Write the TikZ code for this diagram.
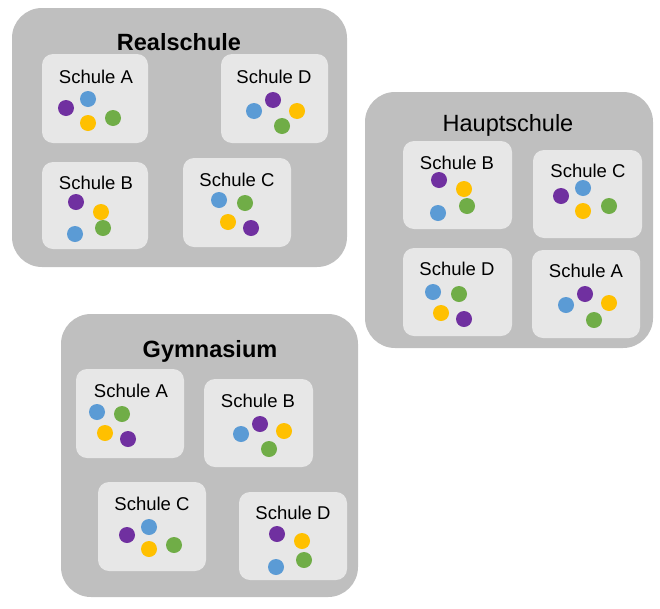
\documentclass[tikz,border=0pt]{standalone}
\usepackage{fontspec}
\setmainfont{Liberation Sans}
\definecolor{outergray}{HTML}{BFBFBF}
\definecolor{innergray}{HTML}{E7E7E7}
\definecolor{dotpurple}{HTML}{7030A0}
\definecolor{dotblue}{HTML}{5B9BD5}
\definecolor{dotyellow}{HTML}{FFC000}
\definecolor{dotgreen}{HTML}{70AD47}
\tikzset{
  typebox/.style={fill=outergray, rounded corners=30pt},
  schoolbox/.style={fill=innergray, rounded corners=11pt},
  typetitle/.style={anchor=base, inner sep=0pt, font=\fontsize{23.5}{26}\selectfont},
  schoollabel/.style={anchor=base, inner sep=0pt, font=\fontsize{18.5}{21}\selectfont},
}
\begin{document}
\begin{tikzpicture}[x=1pt, y=-1pt]
\useasboundingbox (0,0) rectangle (660,608);

% Realschule
\fill[typebox] (12,8) rectangle (347,267);
\node[typetitle, font=\fontsize{23.5}{26}\selectfont\bfseries] (realTitle) at (179,50) {Realschule};

\fill[schoolbox] (42,54) rectangle (148,143);
\node[schoollabel] (realA) at (96,83) {Schule A};
\fill[dotpurple] (66,108) circle (8);
\fill[dotblue] (88,99) circle (8);
\fill[dotyellow] (88,123) circle (8);
\fill[dotgreen] (113,118) circle (8);

\fill[schoolbox] (221,54) rectangle (328,143);
\node[schoollabel] (realD) at (274,83) {Schule D};
\fill[dotblue] (254,111) circle (8);
\fill[dotpurple] (273,100) circle (8);
\fill[dotyellow] (297,111) circle (8);
\fill[dotgreen] (282,126) circle (8);

\fill[schoolbox] (42,162) rectangle (148,249);
\node[schoollabel] (realB) at (96,189) {Schule B};
\fill[dotpurple] (76,202) circle (8);
\fill[dotyellow] (101,212) circle (8);
\fill[dotgreen] (103,228) circle (8);
\fill[dotblue] (75,234) circle (8);

\fill[schoolbox] (183,158) rectangle (291,247);
\node[schoollabel] (realC) at (237,186) {Schule C};
\fill[dotblue] (219,200) circle (8);
\fill[dotgreen] (245,203) circle (8);
\fill[dotyellow] (228,222) circle (8);
\fill[dotpurple] (251,228) circle (8);

% Hauptschule
\fill[typebox] (365,92) rectangle (653,348);
\node[typetitle] (hauptTitle) at (508,131) {Hauptschule};

\fill[schoolbox] (403,141) rectangle (512,229);
\node[schoollabel] (hauptB) at (457,169) {Schule B};
\fill[dotpurple] (439,180) circle (8);
\fill[dotyellow] (464,189) circle (8);
\fill[dotgreen] (467,206) circle (8);
\fill[dotblue] (438,213) circle (8);

\fill[schoolbox] (533,150) rectangle (642,238);
\node[schoollabel] (hauptC) at (588,177) {Schule C};
\fill[dotpurple] (561,196) circle (8);
\fill[dotblue] (583,188) circle (8);
\fill[dotyellow] (583,211) circle (8);
\fill[dotgreen] (609,206) circle (8);

\fill[schoolbox] (403,248) rectangle (512,336);
\node[schoollabel] (hauptD) at (457,275) {Schule D};
\fill[dotblue] (433,292) circle (8);
\fill[dotgreen] (459,294) circle (8);
\fill[dotyellow] (441,313) circle (8);
\fill[dotpurple] (464,319) circle (8);

\fill[schoolbox] (532,250) rectangle (640,338);
\node[schoollabel] (hauptA) at (586,277) {Schule A};
\fill[dotblue] (566,305) circle (8);
\fill[dotpurple] (585,294) circle (8);
\fill[dotyellow] (609,303) circle (8);
\fill[dotgreen] (594,320) circle (8);

% Gymnasium
\fill[typebox] (61,314) rectangle (358,597);
\node[typetitle, font=\fontsize{23.5}{26}\selectfont\bfseries] (gymTitle) at (210,357) {Gymnasium};

\fill[schoolbox] (76,369) rectangle (184,458);
\node[schoollabel] (gymA) at (131,397) {Schule A};
\fill[dotblue] (97,412) circle (8);
\fill[dotgreen] (122,414) circle (8);
\fill[dotyellow] (105,433) circle (8);
\fill[dotpurple] (128,439) circle (8);

\fill[schoolbox] (204,379) rectangle (313,467);
\node[schoollabel] (gymB) at (258,407) {Schule B};
\fill[dotblue] (241,434) circle (8);
\fill[dotpurple] (260,424) circle (8);
\fill[dotyellow] (284,431) circle (8);
\fill[dotgreen] (269,449) circle (8);

\fill[schoolbox] (98,482) rectangle (206,571);
\node[schoollabel] (gymC) at (152,510) {Schule C};
\fill[dotpurple] (127,535) circle (8);
\fill[dotblue] (149,527) circle (8);
\fill[dotyellow] (149,549) circle (8);
\fill[dotgreen] (174,545) circle (8);

\fill[schoolbox] (239,492) rectangle (347,580);
\node[schoollabel] (gymD) at (293,519) {Schule D};
\fill[dotpurple] (277,534) circle (8);
\fill[dotyellow] (302,541) circle (8);
\fill[dotgreen] (304,560) circle (8);
\fill[dotblue] (276,567) circle (8);
\end{tikzpicture}
\end{document}
